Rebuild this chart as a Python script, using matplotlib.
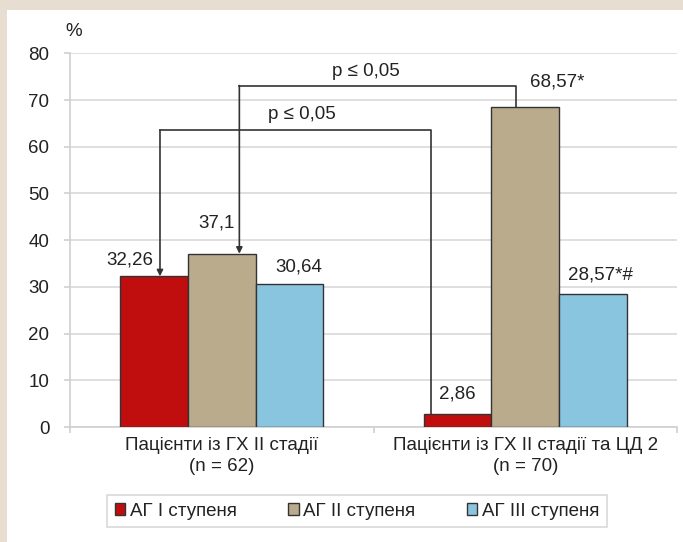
import matplotlib.pyplot as plt
import numpy as np
from matplotlib.patches import Rectangle

plt.rcParams['font.family'] = ['Liberation Sans', 'DejaVu Sans']

# Data
groups = ['Пацієнти із ГХ ІІ стадії\n(n = 62)', 'Пацієнти із ГХ ІІ стадії та ЦД 2\n(n = 70)']
series_names = ['АГ І ступеня', 'АГ ІІ ступеня', 'АГ ІІІ ступеня']
ag1 = [32.26, 2.86]
ag2 = [37.1, 68.57]
ag3 = [30.64, 28.57]
labels_ag1 = ['32,26', '2,86']
labels_ag2 = ['37,1', '68,57*']
labels_ag3 = ['30,64', '28,57*#']
colors = ['#C00E0F', '#BBAB8D', '#89C5DF']

fs = 13.5
fig = plt.figure(figsize=(6.83, 5.42), dpi=100)
fig.patch.set_facecolor('#E7DDD0')
# white panel
fig.patches.append(Rectangle((7 / 683, 0), 1, 1 - 10 / 542, transform=fig.transFigure,
                             facecolor='white', edgecolor='none', zorder=-10))

ax = fig.add_axes([70 / 683, 1 - 427 / 542, 607 / 683, (427 - 53.3) / 542])
ax.set_facecolor('white')

x = np.arange(len(groups))
w = 0.2225
all_vals = [ag1, ag2, ag3]
all_labels = [labels_ag1, labels_ag2, labels_ag3]
# label offsets in pixels (dx, dy above bar top)
label_off = [[(-24, 16), (0, 20)],
             [(-5, 31), (32, 25)],
             [(10, 17), (8, 19)]]
for i, (vals, lab) in enumerate(zip(all_vals, all_labels)):
    pos = x + (i - 1) * w
    ax.bar(pos, vals, w, color=colors[i], edgecolor='#333333', linewidth=1,
           label=series_names[i], zorder=3)
    for j in range(len(groups)):
        dx, dy = label_off[i][j]
        ax.annotate(lab[j], (pos[j], vals[j]), xytext=(dx, dy), textcoords='offset pixels',
                    ha='center', va='center', fontsize=fs, color='#222222', zorder=5)

# significance brackets
lc = '#333333'
# lower bracket: red bar group 1 -> red bar group 2
y_low = 63.6
xa = x[0] - w + 0.019
xb = x[1] - w - 0.089
ax.plot([xb, xb, xa], [ag1[1], y_low, y_low], color=lc, lw=1.2, zorder=4)
ax.annotate('', xy=(xa, ag1[0]), xytext=(xa, y_low),
            arrowprops=dict(arrowstyle='-|>', color=lc, lw=1.2, mutation_scale=9,
                            shrinkA=0, shrinkB=0), zorder=4)
ax.text((xa + xb) / 2 + 0.02, y_low + 3.2, 'p ≤ 0,05', ha='center', va='center',
        fontsize=fs, color='#222222')
# upper bracket: tan bar group 1 -> tan bar group 2
y_up = 73.1
xc = x[0] + 0.058
xd = x[1] - 0.03
ax.plot([xd, xd, xc], [ag2[1], y_up, y_up], color=lc, lw=1.2, zorder=4)
ax.annotate('', xy=(xc, ag2[0]), xytext=(xc, y_up),
            arrowprops=dict(arrowstyle='-|>', color=lc, lw=1.2, mutation_scale=9,
                            shrinkA=0, shrinkB=0), zorder=4)
ax.text((xc + xd) / 2 - 0.04, y_up + 3.0, 'p ≤ 0,05', ha='center', va='center',
        fontsize=fs, color='#222222')

# axes styling
ax.set_xlim(-0.5, 1.5)
ax.set_ylim(0, 80)
ax.set_yticks(np.arange(0, 81, 10))
ax.yaxis.grid(True, color='#D9D9D9', lw=1.2, zorder=0)
ax.set_axisbelow(True)
for s in ['top', 'right']:
    ax.spines[s].set_visible(False)
ax.spines['left'].set_color('#D0D0D0')
ax.spines['bottom'].set_color('#D0D0D0')
ax.spines['left'].set_linewidth(1.2)
ax.spines['bottom'].set_linewidth(1.2)
ax.tick_params(axis='y', colors='#D0D0D0', labelcolor='#222222', labelsize=fs,
               length=4.3, width=1.2, pad=10.5)
ax.set_xticks(x)
ax.set_xticklabels(groups, fontsize=fs, color='#222222', linespacing=1.3)
ax.set_xticks([-0.5, 0.5, 1.5], minor=True)
ax.tick_params(axis='x', which='major', length=0, pad=7.5)
ax.tick_params(axis='x', which='minor', length=4.3, width=1.2, colors='#D0D0D0')
ax.text(-0.008, 1.057, '%', transform=ax.transAxes, fontsize=fs, color='#222222',
        ha='left', va='center')

leg = fig.legend(loc='center', bbox_to_anchor=(357 / 683, 1 - 511 / 542), ncol=3,
                 fontsize=fs, frameon=True, fancybox=False, edgecolor='#CFCFCF',
                 handlelength=0.55, handleheight=0.55, handletextpad=0.25,
                 columnspacing=2.75, borderpad=0.4)
leg.get_frame().set_linewidth(1.2)
for t in leg.get_texts():
    t.set_color('#222222')

fig.savefig('out.png', dpi=100, facecolor=fig.get_facecolor())
